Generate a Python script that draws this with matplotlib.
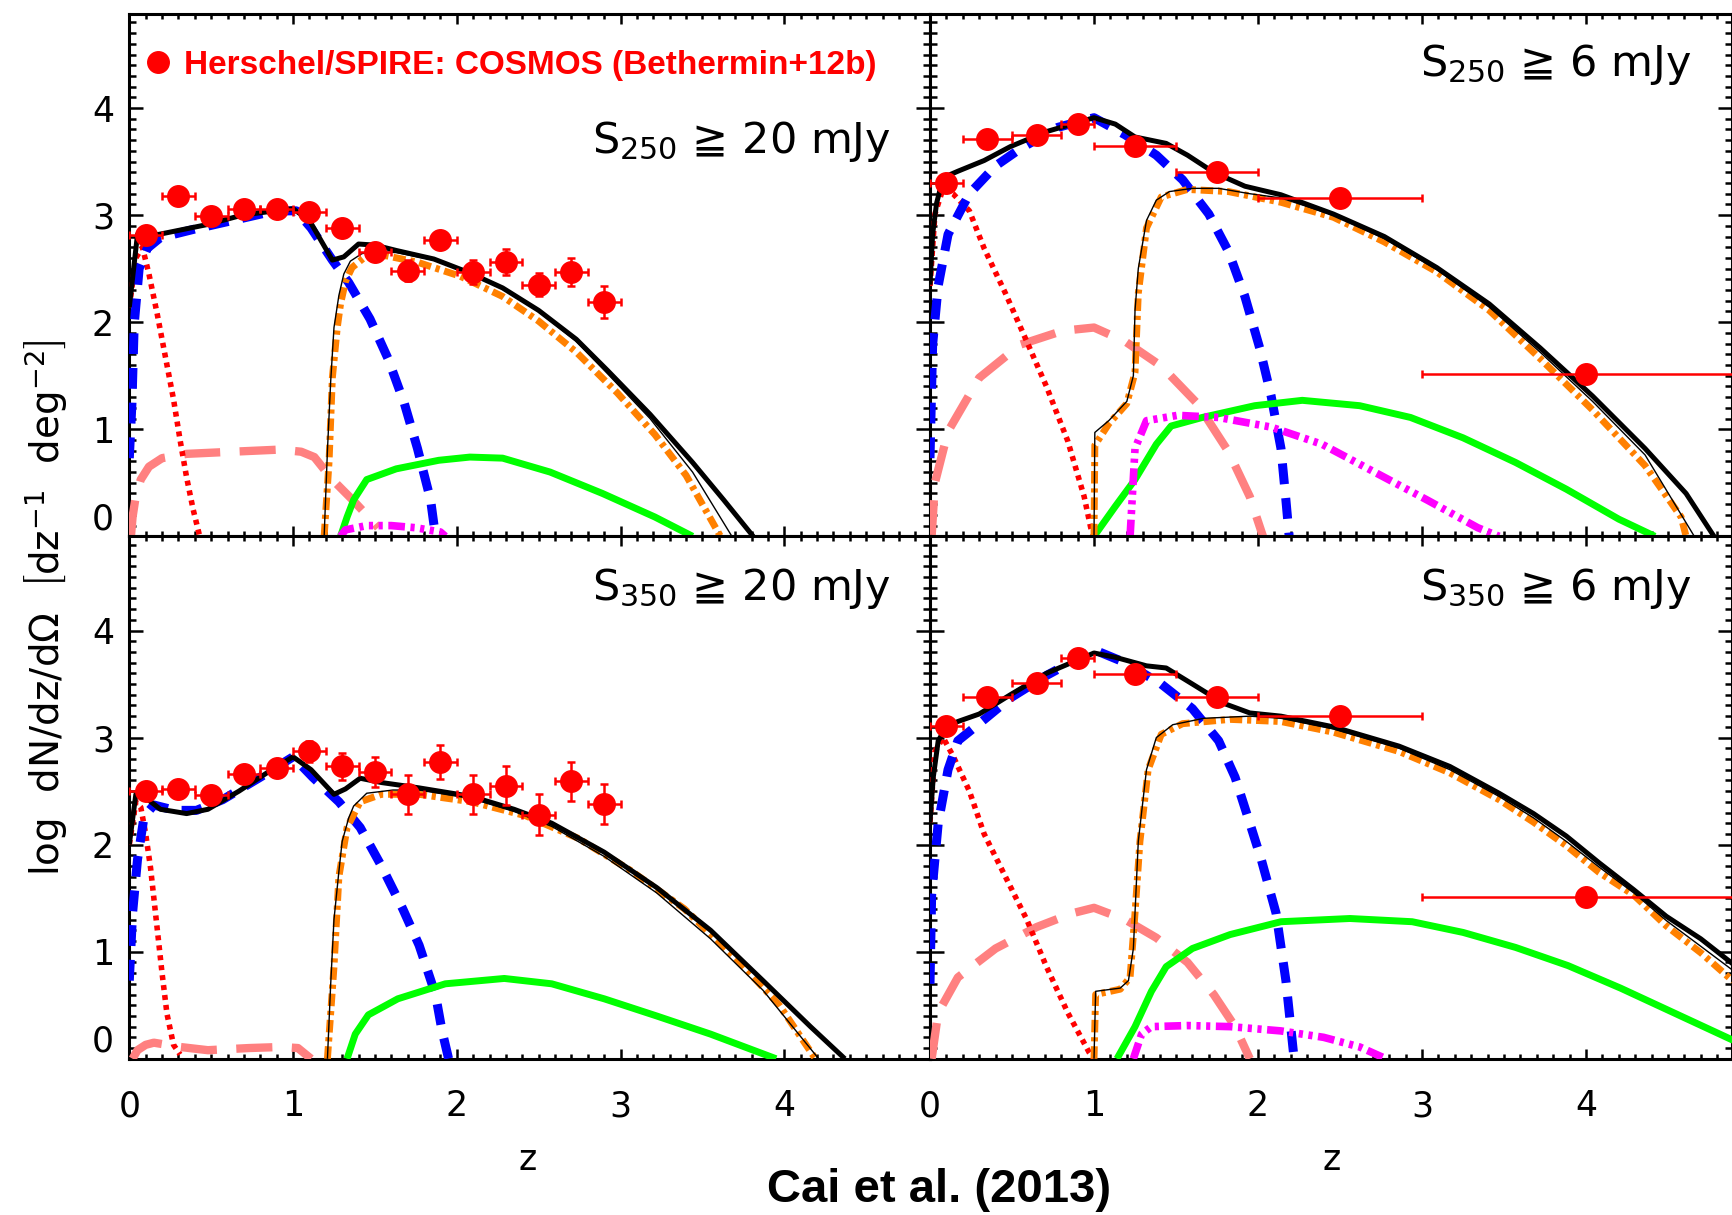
import matplotlib
matplotlib.use("Agg")
import matplotlib.pyplot as plt
from matplotlib.ticker import MultipleLocator, FixedLocator
from matplotlib.lines import Line2D

plt.rcParams["font.family"] = ["DejaVu Sans"]
plt.rcParams["mathtext.fontset"] = "dejavusans"
plt.rcParams["lines.scale_dashes"] = False

# ============================================================
# data  (z, log dN/dz/dOmega)
# ============================================================

# --- panel a : S250 >= 20 mJy ---
a_tot_z = [0.0, 0.05, 0.18, 0.47, 0.69, 0.89, 1.0, 1.1, 1.24, 1.31, 1.40, 1.5, 1.63, 1.86, 2.08, 2.28, 2.5, 2.73, 2.92, 3.18, 3.44, 3.63, 3.81]
a_tot = [2.14, 2.82, 2.82, 2.91, 3.0, 3.04, 3.06, 2.95, 2.58, 2.61, 2.73, 2.72, 2.67, 2.59, 2.46, 2.32, 2.11, 1.84, 1.55, 1.14, 0.69, 0.34, 0.0]
a_thin_z = [1.19, 1.21, 1.23, 1.25, 1.28, 1.31, 1.35, 1.42, 1.5, 1.63, 1.86, 2.08, 2.28, 2.5, 2.73, 2.92, 3.18, 3.44, 3.68]
a_thin = [0.0, 0.8, 1.45, 1.95, 2.25, 2.45, 2.57, 2.64, 2.66, 2.65, 2.58, 2.46, 2.32, 2.1, 1.82, 1.52, 1.1, 0.6, 0.0]
a_sph_z = [1.19, 1.22, 1.24, 1.27, 1.29, 1.32, 1.36, 1.44, 1.57, 1.76, 2.02, 2.28, 2.5, 2.73, 2.98, 3.21, 3.4, 3.61]
a_sph = [0.0, 0.7, 1.48, 1.95, 2.17, 2.38, 2.51, 2.61, 2.62, 2.56, 2.43, 2.24, 2.01, 1.72, 1.34, 0.95, 0.57, 0.0]
a_blue_z = [0.0, 0.016, 0.03, 0.06, 0.11, 0.19, 0.4, 0.66, 0.89, 1.02, 1.11, 1.24, 1.34, 1.47, 1.58, 1.68, 1.76, 1.84, 1.87]
a_blue = [0.73, 1.24, 1.98, 2.5, 2.69, 2.79, 2.87, 2.96, 3.04, 3.04, 2.88, 2.58, 2.37, 2.03, 1.66, 1.24, 0.82, 0.34, 0.0]
a_red_z = [0.0, 0.04, 0.08, 0.12, 0.17, 0.22, 0.27, 0.31, 0.35, 0.39, 0.43]
a_red = [2.14, 2.6, 2.7, 2.45, 2.08, 1.68, 1.28, 0.9, 0.55, 0.25, 0.0]
a_pink_z = [0.01, 0.02, 0.04, 0.07, 0.12, 0.2, 0.35, 0.63, 0.92, 1.05, 1.13, 1.24, 1.37, 1.48, 1.52]
a_pink = [0.0, 0.18, 0.38, 0.53, 0.65, 0.73, 0.77, 0.79, 0.81, 0.79, 0.74, 0.53, 0.33, 0.15, 0.08]
a_green_z = [1.29, 1.33, 1.37, 1.45, 1.63, 1.89, 2.08, 2.28, 2.57, 2.89, 3.21, 3.44]
a_green = [0.0, 0.18, 0.34, 0.53, 0.63, 0.71, 0.74, 0.73, 0.6, 0.4, 0.18, 0.0]
a_mag_z = [1.29, 1.32, 1.45, 1.6, 1.75, 1.9, 1.93]
a_mag = [0.0, 0.06, 0.1, 0.1, 0.08, 0.04, 0.0]

a_obs_z = [0.1, 0.3, 0.5, 0.7, 0.9, 1.1, 1.3, 1.5, 1.7, 1.9, 2.1, 2.3, 2.5, 2.7, 2.9]
a_obs = [2.81, 3.18, 2.99, 3.06, 3.06, 3.03, 2.88, 2.66, 2.48, 2.77, 2.47, 2.56, 2.35, 2.47, 2.19]
a_obs_err = [0.04, 0.05, 0.05, 0.05, 0.05, 0.05, 0.06, 0.07, 0.1, 0.08, 0.11, 0.12, 0.11, 0.13, 0.15]

# --- panel b : S250 >= 6 mJy ---
b_tot_z = [0.0, 0.016, 0.04, 0.08, 0.17, 0.33, 0.49, 0.71, 1.0, 1.13, 1.25, 1.44, 1.57, 1.73, 1.92, 2.14, 2.46, 2.77, 3.09, 3.41, 3.72, 4.04, 4.36, 4.61, 4.78]
b_tot = [2.35, 2.82, 3.11, 3.35, 3.41, 3.51, 3.64, 3.78, 3.91, 3.85, 3.73, 3.67, 3.56, 3.40, 3.27, 3.19, 3.01, 2.80, 2.51, 2.17, 1.76, 1.31, 0.82, 0.40, 0.0]
b_thin_z = [1.0, 1.005, 1.09, 1.2, 1.24, 1.25, 1.27, 1.32, 1.38, 1.46, 1.6, 1.76, 1.95, 2.14, 2.46, 2.77, 3.09, 3.41, 3.72, 4.04, 4.36, 4.66]
b_thin = [0.0, 0.97, 1.08, 1.26, 1.50, 2.11, 2.50, 2.95, 3.14, 3.22, 3.25, 3.25, 3.20, 3.16, 3.0, 2.78, 2.49, 2.14, 1.72, 1.26, 0.76, 0.0]
b_sph_z = [1.0, 1.005, 1.09, 1.2, 1.25, 1.27, 1.32, 1.41, 1.57, 1.82, 2.14, 2.46, 2.77, 3.09, 3.41, 3.72, 4.04, 4.36, 4.58, 4.61]
b_sph = [0.0, 0.85, 1.05, 1.24, 1.53, 2.27, 2.88, 3.17, 3.24, 3.22, 3.12, 2.98, 2.75, 2.47, 2.11, 1.66, 1.18, 0.66, 0.18, 0.0]
b_blue_z = [0.0, 0.016, 0.05, 0.11, 0.24, 0.4, 0.55, 0.78, 1.0, 1.19, 1.38, 1.54, 1.7, 1.82, 1.92, 2.01, 2.08, 2.14, 2.17, 2.19]
b_blue = [0.73, 1.79, 2.34, 2.82, 3.2, 3.46, 3.62, 3.82, 3.91, 3.75, 3.56, 3.33, 3.01, 2.66, 2.24, 1.76, 1.31, 0.82, 0.34, 0.0]
b_red_z = [0.0, 0.03, 0.08, 0.14, 0.24, 0.33, 0.46, 0.59, 0.71, 0.84, 0.94, 0.98, 1.0]
b_red = [2.34, 3.01, 3.25, 3.2, 3.04, 2.69, 2.27, 1.82, 1.40, 0.89, 0.37, 0.08, 0.0]
b_pink_z = [0.01, 0.03, 0.11, 0.3, 0.55, 0.81, 1.0, 1.19, 1.41, 1.63, 1.82, 1.95, 2.03]
b_pink = [0.0, 0.5, 0.98, 1.48, 1.79, 1.92, 1.95, 1.82, 1.59, 1.24, 0.79, 0.37, 0.0]
b_green_z = [1.0, 1.13, 1.25, 1.38, 1.47, 1.66, 1.98, 2.27, 2.62, 2.93, 3.25, 3.57, 3.88, 4.2, 4.42]
b_green = [0.0, 0.28, 0.53, 0.86, 1.03, 1.11, 1.22, 1.27, 1.22, 1.11, 0.92, 0.69, 0.44, 0.16, 0.0]
b_mag_z = [1.22, 1.25, 1.32, 1.51, 1.76, 2.08, 2.39, 2.71, 3.03, 3.34, 3.47]
b_mag = [0.0, 0.82, 1.08, 1.13, 1.11, 1.02, 0.86, 0.60, 0.34, 0.08, 0.0]

b_obs_z = [0.1, 0.35, 0.65, 0.9, 1.25, 1.75, 2.5, 4.0]
b_obs = [3.30, 3.71, 3.75, 3.85, 3.65, 3.40, 3.16, 1.52]

# --- panel c : S350 >= 20 mJy ---
c_tot_z = [0.0, 0.04, 0.09, 0.19, 0.35, 0.48, 0.67, 0.87, 1.0, 1.11, 1.25, 1.32, 1.41, 1.54, 1.77, 2.09, 2.35, 2.58, 2.9, 3.22, 3.55, 3.87, 4.16, 4.37]
c_tot = [2.0, 2.47, 2.45, 2.33, 2.29, 2.33, 2.50, 2.70, 2.82, 2.70, 2.47, 2.52, 2.62, 2.58, 2.53, 2.45, 2.33, 2.20, 1.93, 1.60, 1.20, 0.73, 0.30, 0.0]
c_thin_z = [1.21, 1.23, 1.25, 1.28, 1.30, 1.34, 1.37, 1.45, 1.61, 1.77, 2.09, 2.35, 2.58, 2.9, 3.22, 3.55, 3.87, 4.21]
c_thin = [0.0, 0.7, 1.3, 1.75, 2.03, 2.25, 2.36, 2.48, 2.51, 2.51, 2.43, 2.31, 2.17, 1.89, 1.55, 1.12, 0.64, 0.0]
c_sph_z = [1.21, 1.25, 1.28, 1.33, 1.41, 1.54, 1.77, 2.09, 2.42, 2.74, 3.06, 3.39, 3.71, 3.97, 4.19]
c_sph = [0.0, 0.86, 1.70, 2.16, 2.40, 2.47, 2.47, 2.40, 2.27, 2.06, 1.76, 1.40, 0.93, 0.50, 0.0]
c_blue_z = [0.0, 0.02, 0.05, 0.09, 0.15, 0.28, 0.41, 0.57, 0.8, 1.0, 1.12, 1.28, 1.41, 1.54, 1.67, 1.77, 1.87, 1.91, 1.95]
c_blue = [0.73, 1.36, 1.86, 2.26, 2.37, 2.32, 2.32, 2.42, 2.63, 2.82, 2.63, 2.40, 2.16, 1.80, 1.40, 1.06, 0.60, 0.26, 0.0]
c_red_z = [0.0, 0.04, 0.07, 0.1, 0.13, 0.17, 0.2, 0.23, 0.27, 0.31]
c_red = [2.0, 2.4, 2.35, 2.1, 1.78, 1.22, 0.8, 0.42, 0.13, 0.04]
c_pink_z = [0.02, 0.05, 0.1, 0.15, 0.31, 0.48, 0.73, 0.93, 1.03, 1.11]
c_pink = [0.0, 0.08, 0.13, 0.15, 0.11, 0.08, 0.1, 0.11, 0.1, 0.0]
c_green_z = [1.33, 1.38, 1.46, 1.64, 1.93, 2.29, 2.58, 2.9, 3.22, 3.55, 3.95]
c_green = [0.0, 0.23, 0.41, 0.56, 0.70, 0.75, 0.70, 0.56, 0.40, 0.23, 0.0]

c_obs_z = [0.1, 0.3, 0.5, 0.7, 0.9, 1.1, 1.3, 1.5, 1.7, 1.9, 2.1, 2.3, 2.5, 2.7, 2.9]
c_obs = [2.50, 2.52, 2.46, 2.66, 2.72, 2.87, 2.73, 2.68, 2.47, 2.77, 2.47, 2.55, 2.28, 2.59, 2.38]
c_obs_err = [0.04, 0.04, 0.05, 0.05, 0.06, 0.1, 0.13, 0.14, 0.18, 0.16, 0.18, 0.18, 0.19, 0.18, 0.19]

# --- panel d : S350 >= 6 mJy ---
d_tot_z = [0.0, 0.02, 0.05, 0.1, 0.17, 0.3, 0.49, 0.71, 1.0, 1.13, 1.32, 1.44, 1.6, 1.79, 1.95, 2.14, 2.46, 2.86, 3.17, 3.47, 3.68, 3.88, 4.08, 4.29, 4.49, 4.7, 4.9]
d_tot = [2.21, 2.63, 2.97, 3.10, 3.15, 3.22, 3.40, 3.60, 3.79, 3.75, 3.67, 3.65, 3.50, 3.32, 3.23, 3.20, 3.10, 2.92, 2.73, 2.48, 2.29, 2.08, 1.83, 1.58, 1.33, 1.12, 0.88]
d_thin_z = [1.0, 1.01, 1.16, 1.21, 1.24, 1.27, 1.32, 1.38, 1.48, 1.67, 1.95, 2.14, 2.46, 2.86, 3.17, 3.47, 3.68, 3.88, 4.08, 4.29, 4.49, 4.7, 4.9]
d_thin = [0.0, 0.63, 0.66, 0.73, 1.03, 2.03, 2.70, 3.0, 3.12, 3.18, 3.20, 3.18, 3.08, 2.90, 2.70, 2.45, 2.25, 2.03, 1.79, 1.55, 1.29, 1.05, 0.82]
d_sph_z = [1.0, 1.01, 1.16, 1.22, 1.25, 1.28, 1.33, 1.41, 1.54, 1.83, 2.14, 2.46, 2.86, 3.17, 3.47, 3.68, 3.88, 4.08, 4.29, 4.49, 4.7, 4.9]
d_sph = [0.0, 0.6, 0.65, 0.76, 1.36, 2.03, 2.70, 3.03, 3.13, 3.17, 3.15, 3.05, 2.87, 2.67, 2.42, 2.21, 1.99, 1.74, 1.53, 1.24, 0.99, 0.72]
d_blue_z = [0.0, 0.01, 0.05, 0.11, 0.17, 0.3, 0.49, 0.71, 1.0, 1.19, 1.41, 1.6, 1.76, 1.86, 1.95, 2.02, 2.11, 2.17, 2.22]
d_blue = [0.7, 1.53, 2.20, 2.70, 2.97, 3.13, 3.37, 3.58, 3.82, 3.70, 3.50, 3.27, 2.97, 2.63, 2.20, 1.86, 1.36, 0.73, 0.0]
d_red_z = [0.0, 0.03, 0.08, 0.14, 0.24, 0.33, 0.46, 0.59, 0.71, 0.84, 0.97, 1.0]
d_red = [2.21, 2.87, 3.0, 2.83, 2.50, 2.10, 1.70, 1.30, 0.86, 0.43, 0.06, 0.0]
d_pink_z = [0.01, 0.05, 0.17, 0.4, 0.65, 0.87, 1.0, 1.19, 1.38, 1.57, 1.73, 1.86, 1.95]
d_pink = [0.0, 0.43, 0.76, 1.03, 1.23, 1.36, 1.41, 1.30, 1.13, 0.90, 0.60, 0.30, 0.0]
d_green_z = [1.14, 1.25, 1.35, 1.44, 1.6, 1.83, 2.14, 2.56, 2.94, 3.25, 3.57, 3.89, 4.21, 4.52, 4.9]
d_green = [0.0, 0.30, 0.63, 0.86, 1.03, 1.16, 1.28, 1.31, 1.28, 1.18, 1.04, 0.87, 0.66, 0.44, 0.17]
d_mag_z = [1.24, 1.29, 1.35, 1.57, 1.83, 2.14, 2.40, 2.62, 2.78]
d_mag = [0.0, 0.23, 0.30, 0.31, 0.30, 0.26, 0.20, 0.11, 0.0]

d_obs_z = [0.1, 0.35, 0.65, 0.9, 1.25, 1.75, 2.5, 4.0]
d_obs = [3.11, 3.38, 3.51, 3.74, 3.59, 3.38, 3.20, 1.51]

# redshift bins of the deep (6 mJy) samples, and the 20 mJy half bin width
deep_bin_lo = [0.0, 0.2, 0.5, 0.8, 1.0, 1.5, 2.0, 3.0]
deep_bin_hi = [0.2, 0.5, 0.8, 1.0, 1.5, 2.0, 3.0, 5.0]
deep_err = 0.03
bright_half_bin = 0.1

panel_labels = [r"S$_{250}$ ≧ 20 mJy", r"S$_{250}$ ≧ 6 mJy",
                r"S$_{350}$ ≧ 20 mJy", r"S$_{350}$ ≧ 6 mJy"]
legend_label = "Herschel/SPIRE: COSMOS (Bethermin+12b)"

# ============================================================
# styles
# ============================================================

STYLES = {
    "pink": dict(color="#ff8080", lw=6.0, dashes=(26, 14)),
    "red": dict(color="#ff0000", lw=4.0, dashes=(3.6, 3.6)),
    "blue": dict(color="#0000ff", lw=6.5, dashes=(15, 10)),
    "green": dict(color="#00ff00", lw=5.0),
    "mag": dict(color="#ff00ff", lw=5.5, dashes=(12, 4, 3, 4, 3, 4, 3, 4)),
    "sph": dict(color="#ff8000", lw=5.0, dashes=(9, 3.5, 3, 3.5)),
    "thin": dict(color="black", lw=1.0),
    "tot": dict(color="black", lw=3.6),
}
ORDER = ["pink", "red", "blue", "green", "mag", "sph", "thin", "tot"]

XMAX, YMAX = 4.89, 4.88


def setup_axes(ax, show_x, show_y):
    ax.set_xlim(0, XMAX)
    ax.set_ylim(0, YMAX)
    ax.xaxis.set_major_locator(FixedLocator([0, 1, 2, 3, 4]))
    ax.yaxis.set_major_locator(FixedLocator([0, 1, 2, 3, 4]))
    ax.xaxis.set_minor_locator(MultipleLocator(0.1))
    ax.yaxis.set_minor_locator(MultipleLocator(0.1))
    ax.tick_params(which="both", direction="in", top=True, right=True,
                   width=1.8, labelsize=25)
    ax.tick_params(axis="x", which="major", length=7.5, pad=22)
    ax.tick_params(axis="x", which="minor", length=3.6)
    ax.tick_params(axis="y", which="major", length=10, pad=11)
    ax.tick_params(axis="y", which="minor", length=4.8)
    ax.tick_params(labelbottom=show_x, labelleft=show_y)
    for sp in ax.spines.values():
        sp.set_linewidth(2.2)


def draw_panel(ax, curves, obs_z, obs, xerr, yerr, label, label_pos):
    for key in ORDER:
        if key in curves:
            z, y = curves[key]
            ax.plot(z, y, solid_capstyle="butt", zorder=3, **STYLES[key])
    ax.errorbar(obs_z, obs, xerr=xerr, yerr=yerr, fmt="o", ms=15.5,
                color="red", mec="red", ecolor="red", elinewidth=1.8,
                capsize=3, capthick=1.8, zorder=10)
    ax.text(label_pos[0], label_pos[1], label, ha="right", va="center",
            fontsize=31)


fig = plt.figure(figsize=(17.33, 12.15), dpi=100)

x0, xm, x1 = 129.3 / 1733, 930.0 / 1733, 1732.0 / 1733
h = 0.4300
ax_a = fig.add_axes([x0, 0.5586, xm - x0, h])
ax_b = fig.add_axes([xm, 0.5586, x1 - xm, h])
ax_c = fig.add_axes([x0, 0.1286, xm - x0, h])
ax_d = fig.add_axes([xm, 0.1286, x1 - xm, h])

setup_axes(ax_a, False, True)
setup_axes(ax_b, False, False)
setup_axes(ax_c, True, True)
setup_axes(ax_d, True, False)

curves_a = {"tot": (a_tot_z, a_tot), "thin": (a_thin_z, a_thin), "sph": (a_sph_z, a_sph),
            "blue": (a_blue_z, a_blue), "red": (a_red_z, a_red), "pink": (a_pink_z, a_pink),
            "green": (a_green_z, a_green), "mag": (a_mag_z, a_mag)}
curves_b = {"tot": (b_tot_z, b_tot), "thin": (b_thin_z, b_thin), "sph": (b_sph_z, b_sph),
            "blue": (b_blue_z, b_blue), "red": (b_red_z, b_red), "pink": (b_pink_z, b_pink),
            "green": (b_green_z, b_green), "mag": (b_mag_z, b_mag)}
curves_c = {"tot": (c_tot_z, c_tot), "thin": (c_thin_z, c_thin), "sph": (c_sph_z, c_sph),
            "blue": (c_blue_z, c_blue), "red": (c_red_z, c_red), "pink": (c_pink_z, c_pink),
            "green": (c_green_z, c_green)}
curves_d = {"tot": (d_tot_z, d_tot), "thin": (d_thin_z, d_thin), "sph": (d_sph_z, d_sph),
            "blue": (d_blue_z, d_blue), "red": (d_red_z, d_red), "pink": (d_pink_z, d_pink),
            "green": (d_green_z, d_green), "mag": (d_mag_z, d_mag)}

deep_xerr_b = [[z - lo for z, lo in zip(b_obs_z, deep_bin_lo)],
               [hi - z for z, hi in zip(b_obs_z, deep_bin_hi)]]
deep_xerr_d = [[z - lo for z, lo in zip(d_obs_z, deep_bin_lo)],
               [hi - z for z, hi in zip(d_obs_z, deep_bin_hi)]]

draw_panel(ax_a, curves_a, a_obs_z, a_obs, bright_half_bin, a_obs_err, panel_labels[0], (4.65, 3.69))
draw_panel(ax_b, curves_b, b_obs_z, b_obs, deep_xerr_b, deep_err, panel_labels[1], (4.64, 4.41))
draw_panel(ax_c, curves_c, c_obs_z, c_obs, bright_half_bin, c_obs_err, panel_labels[2], (4.65, 4.39))
draw_panel(ax_d, curves_d, d_obs_z, d_obs, deep_xerr_d, deep_err, panel_labels[3], (4.64, 4.39))

# legend for the data points
marker = Line2D([], [], marker="o", ls="none", color="red", ms=15.5)
ax_a.legend([marker], [legend_label], loc="center left", bbox_to_anchor=(0.0, 0.901),
            frameon=False, labelcolor="red", handlelength=0.9, handletextpad=0.35,
            borderaxespad=0.0, prop={"family": "Liberation Sans", "weight": "bold", "size": 24})

# raise the "0" labels so they sit on the axis
for ax in (ax_a, ax_c):
    for lbl in ax.get_yticklabels():
        if lbl.get_text() == "0":
            lbl.set_verticalalignment("bottom")

fig.text(46 / 1733, 1 - 608 / 1215,
         r"log  dN/dz/dΩ  $\left[\mathrm{dz}^{-1}\ \ \mathrm{deg}^{-2}\right]$",
         rotation=90, ha="center", va="center", fontsize=28)
fig.text(528 / 1733, 1 - 1160 / 1215, "z", ha="center", va="center", fontsize=25)
fig.text(1332 / 1733, 1 - 1160 / 1215, "z", ha="center", va="center", fontsize=25)
fig.text(939 / 1733, 1 - 1190 / 1215, "Cai et al. (2013)", ha="center", va="center",
         fontsize=34, fontweight="bold", family="Liberation Sans")

fig.savefig("out.png", dpi=100)
